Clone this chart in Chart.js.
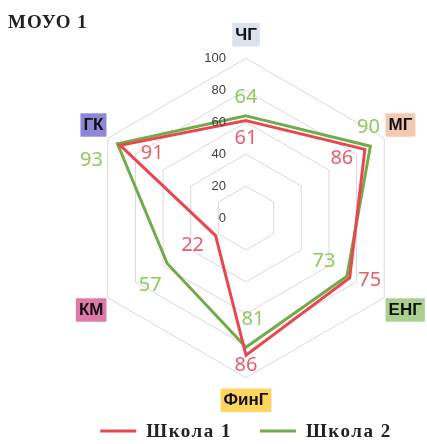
<!DOCTYPE html>
<html>
<head>
<meta charset="utf-8">
<script src="https://cdn.jsdelivr.net/npm/chart.js@4.4.1/dist/chart.umd.min.js"></script>
<style>
  html, body { margin: 0; padding: 0; background: #fff; }
  #wrap { width: 427px; height: 444px; }
</style>
</head>
<body>
<div id="wrap"><canvas id="radar"></canvas></div>
<script>
// Data
const categories = ['ЧГ', 'МГ', 'ЕНГ', 'ФинГ', 'КМ', 'ГК'];
const school1 = [61, 86, 75, 86, 22, 91];
const school2 = [64, 90, 73, 81, 57, 93];
const tickValues = [0, 20, 40, 60, 80, 100];
const seriesNames = ['Школа 1', 'Школа 2'];

// Styling
const labelColors = ['#dbe2ee', '#f4c8b1', '#a9d08e', '#ffd45f', '#df7aa8', '#8f86d8'];
const labelPadding = [13, 5, 5, 13, 5, 5];
const lineColors = ['#e8474f', '#72aa4c'];
const textColors = ['#e65f6c', '#8fc95f'];
// value label offsets [dx, dy] from each point
const labelOffsets = [
  [[0, 18], [-23, 9], [20, 2], [0, 10], [-23, 10], [32, 8]],
  [[0, -19], [-2, -19], [-23, -15], [7, -28], [-17, 22], [-26, 17]]
];

// Title drawn in the corner, without taking layout space
const titlePlugin = {
  id: 'cornerTitle',
  afterDraw(chart) {
    const ctx = chart.ctx;
    ctx.save();
    ctx.font = 'bold 19px "Liberation Serif"';
    ctx.letterSpacing = '1px';
    ctx.fillStyle = '#222';
    ctx.textBaseline = 'middle';
    ctx.textAlign = 'left';
    ctx.fillText('МОУО 1', 8, 23);
    ctx.restore();
  }
};

// Tick labels to the left of the vertical axis
const tickPlugin = {
  id: 'sideTicks',
  afterDraw(chart) {
    const scale = chart.scales.r;
    const ctx = chart.ctx;
    ctx.save();
    ctx.font = '13px "Liberation Sans"';
    ctx.fillStyle = '#404040';
    ctx.textAlign = 'right';
    ctx.textBaseline = 'middle';
    tickValues.forEach(v => {
      const y = scale.yCenter - scale.getDistanceFromCenterForValue(v);
      ctx.fillText(String(v), scale.xCenter - 20, y);
    });
    ctx.restore();
  }
};

// Value labels next to each point
const valuePlugin = {
  id: 'valueLabels',
  afterDatasetsDraw(chart) {
    const ctx = chart.ctx;
    ctx.save();
    ctx.font = '20px "Noto Sans"';
    ctx.textAlign = 'center';
    ctx.textBaseline = 'middle';
    chart.data.datasets.forEach((ds, di) => {
      const meta = chart.getDatasetMeta(di);
      ctx.fillStyle = textColors[di];
      meta.data.forEach((pt, i) => {
        const off = labelOffsets[di][i];
        ctx.fillText(String(ds.data[i]), pt.x + off[0], pt.y + off[1]);
      });
    });
    ctx.restore();
  }
};

// Legend at the bottom: line sample + serif label, centred under the radar
const legendPlugin = {
  id: 'bottomLegend',
  afterDraw(chart) {
    const ctx = chart.ctx;
    const y = chart.height - 13;
    ctx.save();
    ctx.font = 'bold 19px "Liberation Serif"';
    ctx.letterSpacing = '1.5px';
    ctx.textBaseline = 'middle';
    ctx.textAlign = 'left';
    const lineLen = 36, gapText = 10, gapItem = 28;
    const widths = seriesNames.map(s => ctx.measureText(s).width);
    const total = widths.reduce((a, w) => a + lineLen + gapText + w, 0) + gapItem;
    let x = chart.scales.r.xCenter - total / 2;
    seriesNames.forEach((name, i) => {
      ctx.strokeStyle = lineColors[i];
      ctx.lineWidth = 3;
      ctx.beginPath();
      ctx.moveTo(x, y);
      ctx.lineTo(x + lineLen, y);
      ctx.stroke();
      x += lineLen + gapText;
      ctx.fillStyle = '#222';
      ctx.fillText(name, x, y + 1);
      x += widths[i] + gapItem;
    });
    ctx.restore();
  }
};

new Chart(document.getElementById('radar'), {
  type: 'radar',
  data: {
    labels: categories,
    datasets: [
      {
        label: seriesNames[0],
        data: school1,
        borderColor: lineColors[0],
        backgroundColor: lineColors[0],
        borderWidth: 3,
        borderJoinStyle: 'miter',
        pointRadius: 0,
        fill: false
      },
      {
        label: seriesNames[1],
        data: school2,
        borderColor: lineColors[1],
        backgroundColor: lineColors[1],
        borderWidth: 3,
        borderJoinStyle: 'miter',
        pointRadius: 0,
        fill: false
      }
    ]
  },
  options: {
    responsive: true,
    maintainAspectRatio: false,
    animation: false,
    layout: {
      padding: { left: 76, right: 0, top: 25, bottom: 33 }
    },
    scales: {
      r: {
        min: 0,
        max: 100,
        ticks: {
          stepSize: 20,
          display: false
        },
        grid: {
          color: '#d9d9d9',
          lineWidth: 1
        },
        angleLines: {
          display: false
        },
        pointLabels: {
          font: {
            family: '"Liberation Sans"',
            size: 17,
            weight: 'bold'
          },
          color: '#111',
          backdropColor: ctx => labelColors[ctx.index],
          backdropPadding: { top: 2, bottom: 1, left: 3, right: 3 },
          padding: ctx => labelPadding[ctx.index]
        }
      }
    },
    plugins: {
      legend: { display: false },
      tooltip: { enabled: false }
    }
  },
  plugins: [titlePlugin, tickPlugin, valuePlugin, legendPlugin]
});
</script>
</body>
</html>
